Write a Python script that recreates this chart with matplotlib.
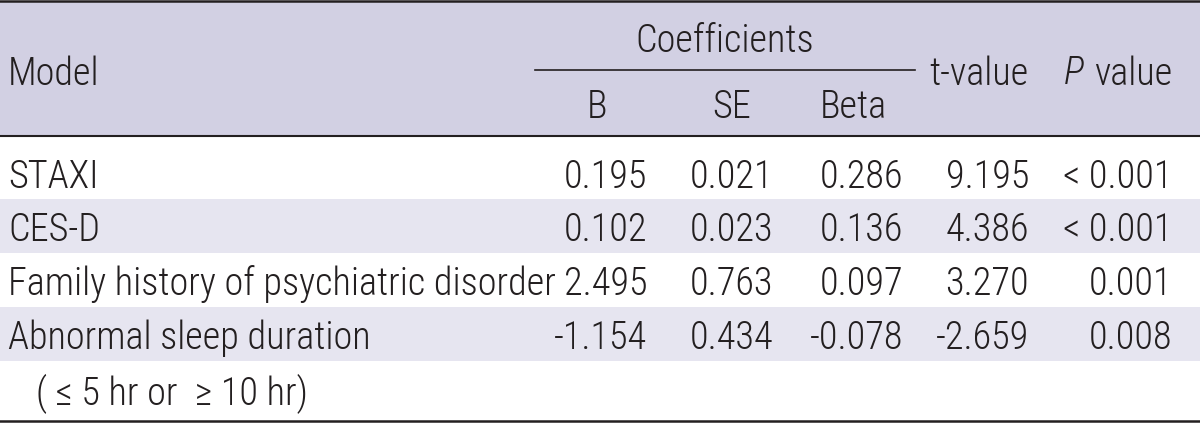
import matplotlib
matplotlib.use('Agg')
import matplotlib.pyplot as plt
from matplotlib.patches import Rectangle

# table contents
models = ['STAXI', 'CES-D', 'Family history of psychiatric disorder', 'Abnormal sleep duration']
b_vals = ['0.195', '0.102', '2.495', '-1.154']
se_vals = ['0.021', '0.023', '0.763', '0.434']
beta_vals = ['0.286', '0.136', '0.097', '-0.078']
t_vals = ['9.195', '4.386', '3.270', '-2.659']
p_vals = ['< 0.001', '< 0.001', '0.001', '0.008']
note = '( \u2264 5 hr or  \u2265 10 hr)'

header_bg = '#d2d0e3'
stripe_bg = '#e6e5f0'
ink = '#231f20'

plt.rcParams['font.family'] = ['Roboto Condensed', 'DejaVu Sans']
plt.rcParams['font.weight'] = 300

fig = plt.figure(figsize=(12, 4.23), dpi=100)
ax = fig.add_axes([0, 0, 1, 1])
ax.set_xlim(0, 1200)
ax.set_ylim(423, 0)
ax.axis('off')

fs = 27.5

def put(x, y, s, ha='left', **kw):
    ax.text(x, y, s, fontsize=fs, color=ink, va='center_baseline', ha=ha, **kw)

# backgrounds
ax.add_patch(Rectangle((0, 2), 1200, 134, color=header_bg, lw=0))
row_y = [173, 226, 280, 334]
row_top = [137, 199, 253, 307, 361]
for i in range(len(models)):
    if i % 2 == 1:
        ax.add_patch(Rectangle((0, row_top[i]), 1200, row_top[i + 1] - row_top[i], color=stripe_bg, lw=0))

# rules
ax.plot([0, 1200], [1.5, 1.5], color=ink, lw=1.8)
ax.plot([0, 1200], [136.5, 136.5], color=ink, lw=1.5)
ax.plot([0, 1200], [421.5, 421.5], color=ink, lw=1.8)
ax.plot([535, 915], [70, 70], color=ink, lw=1.2)

# header
put(8, 70, 'Model')
put(725, 37, 'Coefficients', ha='center')
put(597, 103, 'B', ha='center')
put(732, 103, 'SE', ha='center')
put(853, 103, 'Beta', ha='center')
put(1029, 70, 't-value', ha='right')
put(1172, 70, 'value', ha='right')
put(1084, 70, 'P', ha='right', style='italic')

# rows
col_right = [647, 773, 903, 1029, 1172]
for i, m in enumerate(models):
    y = row_y[i]
    put(8, y, m)
    for x, v in zip(col_right, [b_vals[i], se_vals[i], beta_vals[i], t_vals[i], p_vals[i]]):
        put(x, y, v, ha='right')
put(36, 389, note)

fig.savefig('out.png', dpi=100)
